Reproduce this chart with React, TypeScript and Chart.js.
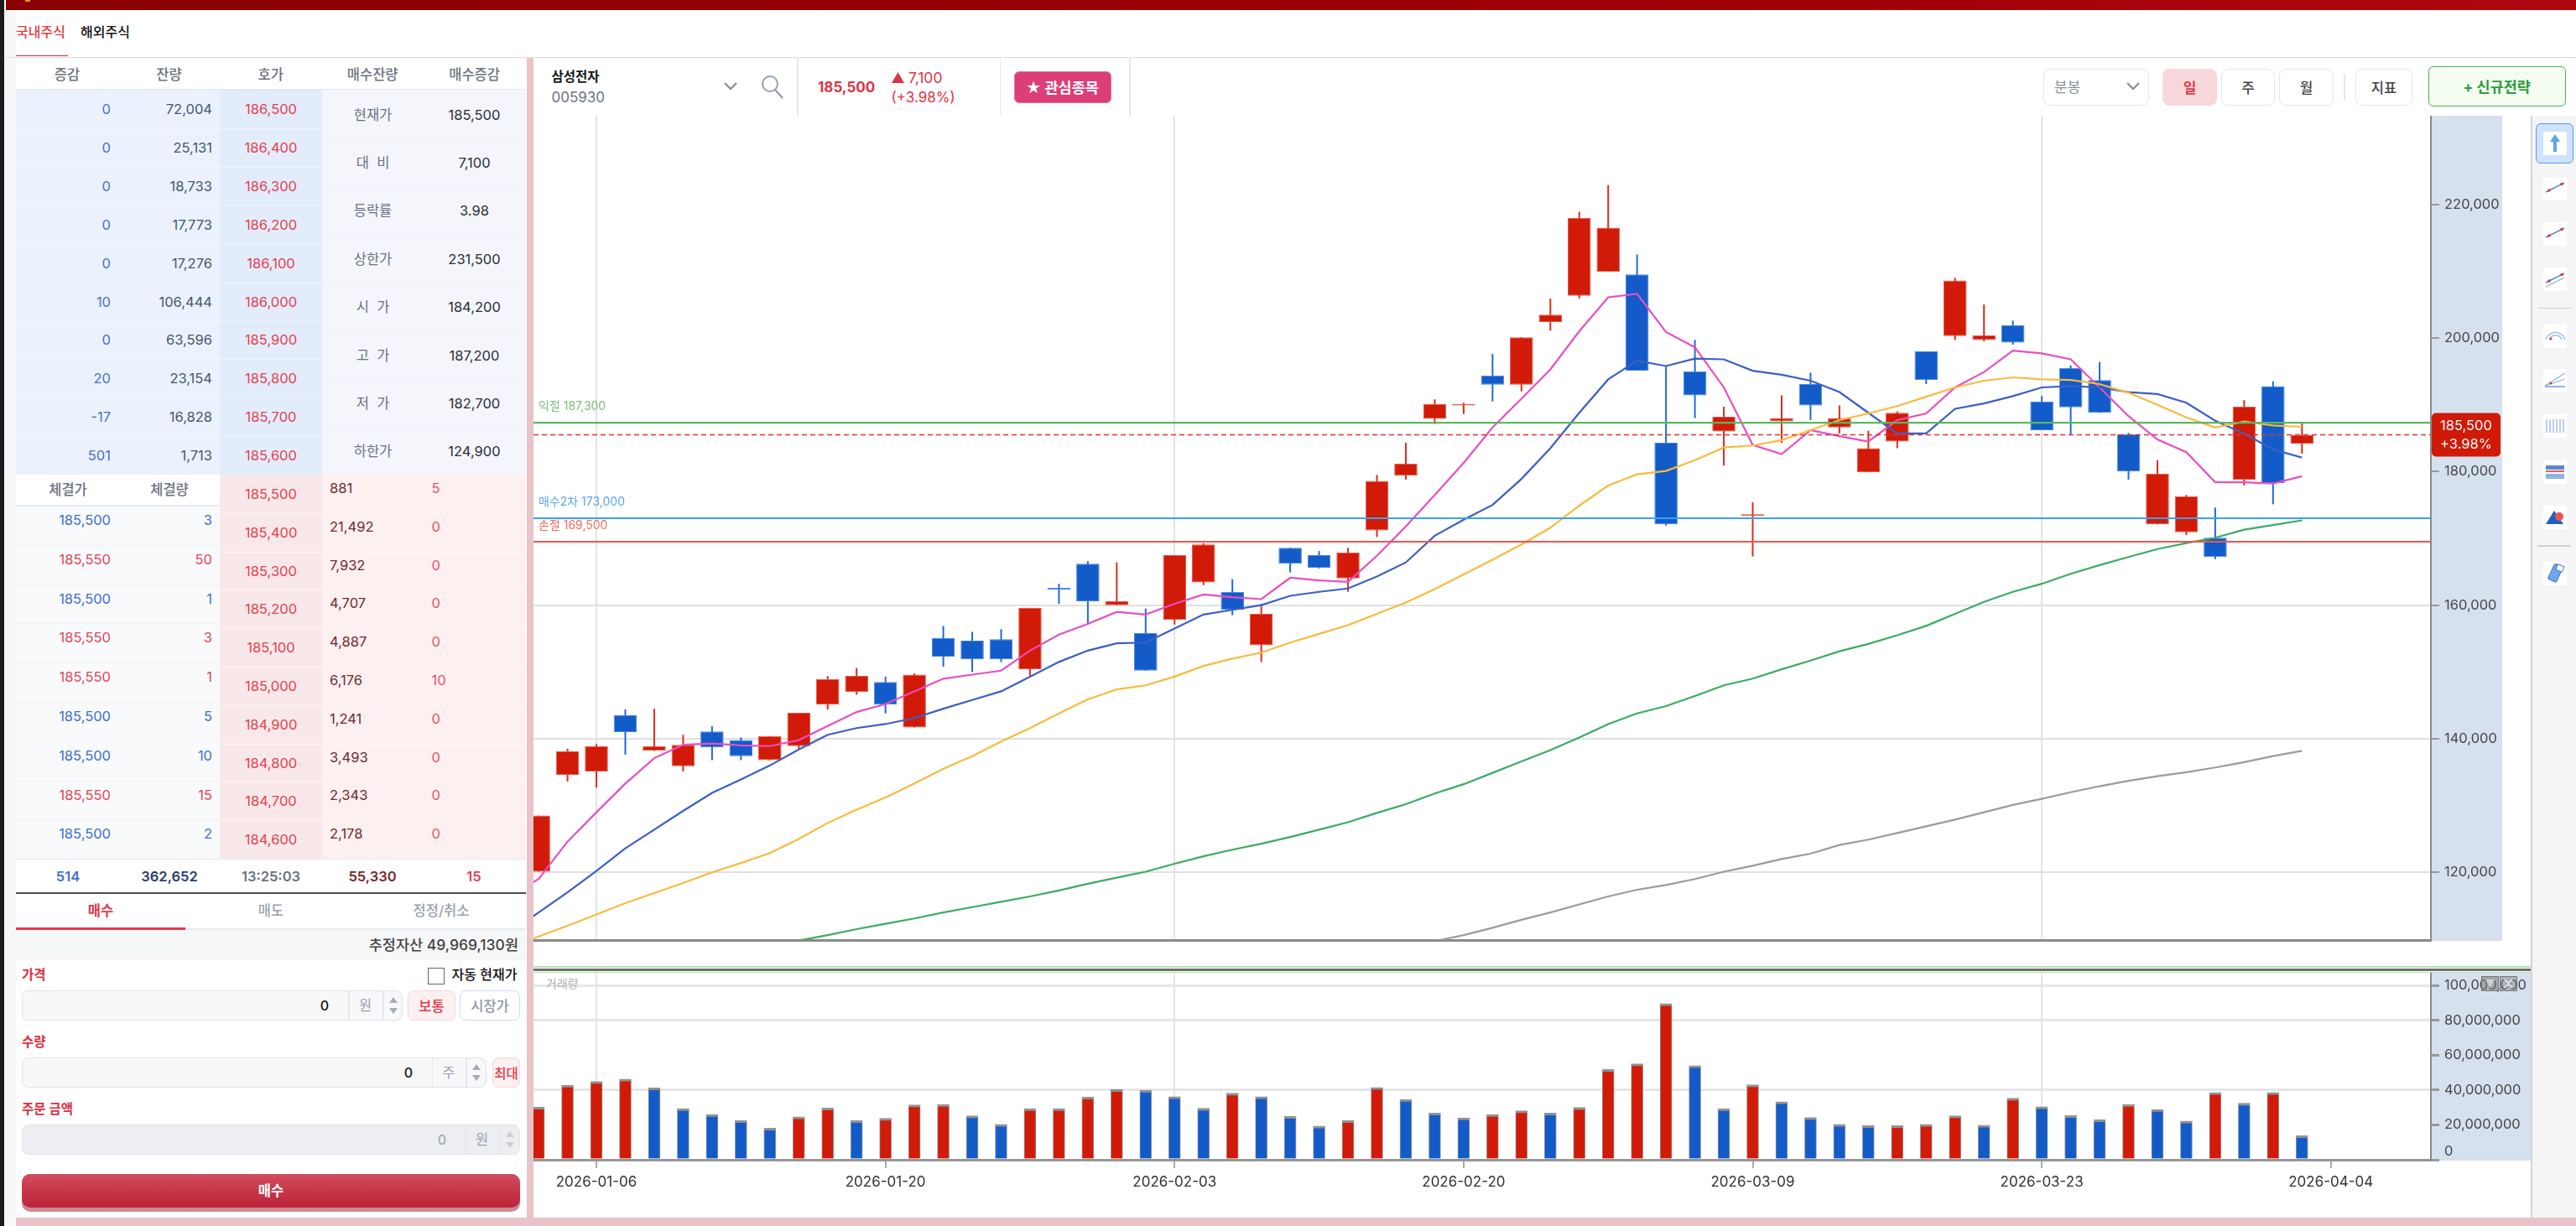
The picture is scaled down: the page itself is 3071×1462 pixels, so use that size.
import { useEffect, useRef } from 'react';
import type { CSSProperties, ReactNode } from 'react';
import Chart from 'chart.js/auto';

const FONT = 'Inter, "Noto Sans CJK KR", sans-serif';

// order book
const askDeltas = ['0', '0', '0', '0', '0', '10', '0', '20', '-17', '501'];
const askSizes = ['72,004', '25,131', '18,733', '17,773', '17,276', '106,444', '63,596', '23,154', '16,828', '1,713'];
const askPrices = ['186,500', '186,400', '186,300', '186,200', '186,100', '186,000', '185,900', '185,800', '185,700', '185,600'];
const infoLabels = ['현재가', '대  비', '등락률', '상한가', '시  가', '고  가', '저  가', '하한가'];
const infoValues = ['185,500', '7,100', '3.98', '231,500', '184,200', '187,200', '182,700', '124,900'];
const bidPrices = ['185,500', '185,400', '185,300', '185,200', '185,100', '185,000', '184,900', '184,800', '184,700', '184,600'];
const bidSizes = ['881', '21,492', '7,932', '4,707', '4,887', '6,176', '1,241', '3,493', '2,343', '2,178'];
const bidDeltas = ['5', '0', '0', '0', '0', '10', '0', '0', '0', '0'];
const tradePrices = ['185,500', '185,550', '185,500', '185,550', '185,550', '185,500', '185,500', '185,550', '185,500'];
const tradeSizes = ['3', '50', '1', '3', '1', '5', '10', '15', '2'];

// daily candles, index 0 is the leftmost (clipped) session
const opens = [120100, 134600, 135100, 143500, 138200, 135900, 141100, 139800, 136800, 138900, 145100, 147000, 148500, 141700, 155100, 154700, 154900, 150400, 162600, 166200, 160000, 155800, 157800, 163400, 162000, 154000, 168600, 167500, 164000, 171200, 179400, 187900, 189900, 194400, 193000, 202400, 206300, 209900, 209500, 184300, 195000, 186000, 173400, 187500, 193100, 186600, 179900, 184500, 198000, 200300, 199700, 201900, 190500, 195500, 193700, 185600, 172100, 170900, 170100, 178800, 192800, 184200];
const closes = [128500, 138100, 138900, 141000, 138900, 139100, 138700, 137400, 140400, 143900, 148900, 149400, 145100, 149600, 152300, 151900, 151900, 159600, 162300, 160600, 160600, 150200, 167500, 169100, 159300, 158700, 166200, 165600, 167900, 178600, 181200, 190100, 190100, 193000, 200100, 203500, 218000, 216500, 195100, 172100, 191400, 188200, 173600, 188000, 189900, 188000, 183500, 188800, 193700, 208600, 200400, 199300, 186200, 189600, 188800, 180000, 179700, 176300, 167200, 189700, 178300, 185500];
const highs = [128500, 138500, 139200, 144400, 144500, 140600, 141900, 140200, 140400, 143900, 149400, 150600, 149300, 149800, 156900, 156000, 156400, 159600, 163200, 166600, 166400, 159500, 167500, 169300, 163900, 160200, 168600, 168100, 168600, 179500, 184300, 190800, 190300, 197600, 200100, 205900, 218900, 222900, 212500, 195800, 199700, 189700, 175400, 191400, 194800, 189900, 186100, 189000, 198000, 209000, 205000, 202600, 191300, 195900, 196400, 185800, 181700, 176500, 174600, 190700, 193500, 187200];
const lows = [120100, 133600, 132700, 137600, 138200, 135100, 136800, 136800, 136800, 138500, 144400, 146600, 143800, 141700, 150800, 150000, 151500, 149400, 160200, 157300, 160000, 150200, 157100, 163000, 158500, 151500, 164900, 165500, 162000, 170200, 178800, 187100, 188600, 190500, 192000, 201100, 205900, 209900, 195100, 171900, 188000, 180900, 167300, 184300, 187700, 185700, 179900, 183500, 193100, 199700, 199500, 199000, 186200, 185500, 188800, 178800, 172100, 170500, 166900, 177900, 175100, 182700];

// moving averages, first value sits one session before index 0
const ma5 = [116600, 119000, 124600, 129000, 133300, 137100, 139100, 139300, 139000, 138900, 139800, 141900, 144000, 145200, 147100, 149000, 149600, 150200, 153200, 155600, 157200, 159000, 158600, 160200, 161600, 161200, 160900, 164100, 163700, 163500, 167400, 171800, 176500, 181300, 186600, 190900, 195300, 201000, 206100, 206600, 200900, 198600, 192600, 184000, 182600, 186200, 185300, 184500, 187700, 188700, 192600, 194900, 198100, 197700, 196800, 192600, 188300, 184800, 182900, 178400, 178400, 178200, 179300];
const ma10 = [111000, 114000, 117000, 120200, 123600, 126400, 129200, 131900, 133900, 136000, 138400, 140600, 141600, 142200, 143100, 144500, 145800, 147100, 149300, 151500, 153200, 154300, 154400, 156500, 158600, 159300, 160000, 161400, 162000, 162500, 164300, 166400, 170400, 172800, 175000, 178900, 183500, 188800, 193800, 196600, 195800, 196900, 196800, 195100, 194500, 193600, 191900, 188800, 185700, 185700, 189400, 190200, 191300, 192600, 192800, 192600, 191900, 191600, 190300, 187600, 185700, 183300, 182100];
const ma20 = [108700, 110400, 112000, 113700, 115400, 116900, 118400, 120000, 121400, 122900, 125000, 127400, 129400, 131200, 133300, 135500, 137400, 139600, 141600, 143800, 145900, 147400, 148000, 149300, 150900, 152000, 152900, 154400, 155700, 157000, 158700, 160400, 162400, 164600, 166800, 169100, 171600, 174900, 177900, 179600, 180100, 181700, 183600, 183900, 184700, 186200, 187700, 188700, 189800, 191200, 192600, 193600, 194100, 193800, 193700, 193100, 191800, 190000, 188100, 186600, 187500, 186900, 186700];
const ma60Start = 8;
const ma60 = [109000, 109800, 110600, 111500, 112300, 113100, 114000, 114800, 115600, 116400, 117300, 118300, 119200, 120100, 121300, 122400, 123400, 124300, 125300, 126400, 127500, 128900, 130200, 131800, 133200, 134900, 136600, 138300, 140200, 142200, 143800, 144900, 146400, 148000, 149000, 150400, 151700, 153100, 154200, 155500, 156900, 158700, 160500, 162000, 163200, 164700, 166000, 167200, 168400, 169300, 170100, 171300, 172000, 172700];
const ma120Start = 30;
const ma120 = [108700, 109700, 110600, 111700, 112900, 114000, 115200, 116400, 117400, 118100, 119000, 120100, 121000, 122000, 122800, 124100, 124900, 125900, 126900, 127900, 129000, 130100, 131000, 132000, 132900, 133700, 134400, 135000, 135700, 136500, 137400, 138200];

// strategy levels
const takeProfit = 187300;
const currentPrice = 185500;
const buySecond = 173000;
const stopLoss = 169500;

// volume
const volumes = [30200000, 42800000, 45000000, 46300000, 41200000, 29400000, 26000000, 22500000, 18200000, 24600000, 29700000, 22500000, 23800000, 31500000, 31800000, 25200000, 20300000, 29400000, 29400000, 36000000, 40300000, 39900000, 36200000, 29600000, 38300000, 36200000, 24900000, 19300000, 22500000, 41500000, 34600000, 26800000, 24100000, 26000000, 28100000, 26800000, 30100000, 51800000, 55100000, 89700000, 54000000, 29400000, 43100000, 33300000, 24300000, 20300000, 19600000, 19600000, 20300000, 25200000, 19800000, 35400000, 30400000, 25400000, 23000000, 31800000, 28900000, 22200000, 38600000, 32500000, 38600000, 13800000];
const volumeUp = [1, 1, 1, 1, 0, 0, 0, 0, 0, 1, 1, 0, 1, 1, 1, 0, 0, 1, 1, 1, 1, 0, 0, 0, 1, 0, 0, 0, 1, 1, 0, 0, 0, 1, 1, 0, 1, 1, 1, 1, 0, 0, 1, 0, 0, 0, 0, 1, 1, 1, 0, 1, 0, 0, 0, 1, 0, 0, 1, 0, 1, 0];

// axis ticks
const dateTickIndexes = [2, 12, 22, 32, 42, 52, 62];
const dateTickLabels = ['2026-01-06', '2026-01-20', '2026-02-03', '2026-02-20', '2026-03-09', '2026-03-23', '2026-04-04'];
const gridDateIndexes = [2, 22, 52];
const priceTicks = [120000, 140000, 160000, 180000, 200000, 220000];
const priceGridValues = [120000, 140000, 160000];
const volumeTicks = [0, 20000000, 40000000, 60000000, 80000000, 100000000];
const volumeGridValues = [40000000, 80000000, 100000000];

const RED = '#d11a07';
const BLUE = '#125bc9';
const X_MIN = -0.177;
const X_MAX = 65.46;
const GRID = '#e0e0e0';

const toPoints = (values: number[], start: number) => values.map((y, i) => ({ x: start + i, y }));
const fixTicks = (values: number[]) => (axis: any) => {
  axis.ticks = values.map((value) => ({ value }));
};
const noPadding = (axis: any) => {
  axis.paddingTop = 0;
  axis.paddingBottom = 0;
  axis.paddingLeft = 0;
  axis.paddingRight = 0;
};
const maLine = (values: number[], start: number, color: string) => ({
  type: 'line' as const,
  data: toPoints(values, start),
  borderColor: color,
  borderWidth: 2.2,
  pointRadius: 0,
  tension: 0,
  order: 3,
});
const levelLine = (y: number, color: string, width: number, dash: number[] = []) => ({
  type: 'line' as const,
  data: [{ x: X_MIN, y }, { x: X_MAX, y }],
  borderColor: color,
  borderWidth: width,
  borderDash: dash,
  pointRadius: 0,
  order: 1,
});

const priceOverlay = {
  id: 'priceOverlay',
  afterDraw(chart: any) {
    const { ctx, scales, chartArea } = chart;
    const yOf = (v: number) => scales.y.getPixelForValue(v);
    ctx.save();
    ctx.font = `14px ${FONT}`;
    ctx.textBaseline = 'middle';
    ctx.textAlign = 'left';
    const x = chartArea.left + 6;
    ctx.fillStyle = '#7fbb7f';
    ctx.fillText(`익절 ${takeProfit.toLocaleString('en-US')}`, x, yOf(takeProfit) - 19);
    ctx.fillStyle = '#5aa5f2';
    ctx.fillText(`매수2차 ${buySecond.toLocaleString('en-US')}`, x, yOf(buySecond) - 19);
    ctx.fillStyle = '#f26c5c';
    ctx.fillText(`손절 ${stopLoss.toLocaleString('en-US')}`, x, yOf(stopLoss) - 19);

    const mid = yOf(currentPrice);
    ctx.fillStyle = '#cf1a08';
    ctx.beginPath();
    ctx.roundRect(chartArea.right + 1, mid - 26, 82, 52, 5);
    ctx.fill();
    ctx.fillStyle = '#ffffff';
    ctx.textAlign = 'center';
    ctx.font = `16.5px ${FONT}`;
    ctx.fillText(currentPrice.toLocaleString('en-US'), chartArea.right + 42, mid - 10);
    ctx.fillText('+3.98%', chartArea.right + 42, mid + 12);
    ctx.restore();
  },
};

function PriceChart() {
  const canvasRef = useRef<HTMLCanvasElement>(null);

  useEffect(() => {
    if (!canvasRef.current) return;
    const wicks = lows.map((low, i) => ({ x: i, y: [low, highs[i]] }));
    const bodies = opens.map((open, i) => ({ x: i, y: [open, closes[i]] }));
    const up = (i: number) => closes[i] >= opens[i];

    const chart = new Chart(canvasRef.current, {
      type: 'bar',
      data: {
        datasets: [
          {
            data: wicks,
            grouped: false,
            barPercentage: 1,
            maxBarThickness: 2,
            backgroundColor: opens.map((_, i) => (up(i) ? '#de2c1c' : '#2169d6')),
            order: 6,
          },
          {
            data: bodies,
            grouped: false,
            barPercentage: 1,
            maxBarThickness: 29,
            backgroundColor: opens.map((_, i) => (up(i) ? RED : BLUE)),
            borderColor: opens.map((_, i) => (up(i) ? '#e25a48' : '#4585dc')),
            borderWidth: 1,
            borderSkipped: false,
            order: 5,
          },
          maLine(ma120, ma120Start, '#9b9b9b'),
          maLine(ma60, ma60Start, '#3bab66'),
          maLine(ma20, -1, '#f7bb3e'),
          maLine(ma10, -1, '#3c5fc2'),
          maLine(ma5, -1, '#e84fc1'),
          levelLine(takeProfit, '#5cb660', 2.2),
          levelLine(currentPrice, '#dd3434', 1.5, [6, 4]),
          levelLine(buySecond, '#37a3f3', 2),
          levelLine(stopLoss, '#f4534c', 2.2),
        ] as any,
      },
      options: {
        responsive: false,
        devicePixelRatio: 1,
        animation: false,
        layout: { padding: 0 },
        plugins: { legend: { display: false }, tooltip: { enabled: false } },
        scales: {
          x: {
            type: 'linear',
            offset: false,
            min: X_MIN,
            max: X_MAX,
            afterBuildTicks: fixTicks(dateTickIndexes),
            afterFit: (axis: any) => {
              noPadding(axis);
              axis.height = 2;
            },
            ticks: { display: false, autoSkip: false },
            grid: {
              offset: false,
              drawTicks: false,
              lineWidth: 2,
              color: (c: any) => (gridDateIndexes.includes(c.tick?.value) ? '#e4e4e4' : 'transparent'),
            },
            border: { color: '#8a8a8a', width: 3 },
          },
          y: {
            position: 'right',
            min: 109870,
            max: 233270,
            afterBuildTicks: fixTicks(priceTicks),
            afterFit: (axis: any) => {
              noPadding(axis);
              axis.width = 85;
            },
            ticks: {
              autoSkip: false,
              padding: 6,
              color: '#484848',
              font: { family: FONT, size: 16.5 },
              callback: (v: any) => Number(v).toLocaleString('en-US'),
            },
            grid: {
              lineWidth: 2,
              tickLength: 10,
              tickColor: '#999999',
              color: (c: any) => (priceGridValues.includes(c.tick?.value) ? GRID : 'transparent'),
            },
            border: { color: '#8a8a8a', width: 2 },
          },
        },
      },
      plugins: [priceOverlay],
    });

    return () => chart.destroy();
  }, []);

  return <canvas ref={canvasRef} width={2347} height={985} style={{ position: 'absolute', left: 636, top: 138 }} />;
}

function VolumeChart() {
  const canvasRef = useRef<HTMLCanvasElement>(null);

  useEffect(() => {
    if (!canvasRef.current) return;
    const chart = new Chart(canvasRef.current, {
      type: 'bar',
      data: {
        datasets: [
          {
            data: volumes.map((y, i) => ({ x: i, y })),
            barThickness: 14,
            backgroundColor: volumeUp.map((u) => (u ? RED : BLUE)),
            borderColor: 'rgba(110,110,110,0.75)',
            borderWidth: { top: 3, left: 1, right: 1, bottom: 0 },
            borderSkipped: false,
          },
        ] as any,
      },
      options: {
        responsive: false,
        devicePixelRatio: 1,
        animation: false,
        layout: { padding: 0 },
        plugins: { legend: { display: false }, tooltip: { enabled: false } },
        scales: {
          x: {
            type: 'linear',
            offset: false,
            min: X_MIN,
            max: X_MAX,
            afterBuildTicks: fixTicks(dateTickIndexes),
            afterFit: (axis: any) => {
              noPadding(axis);
              axis.height = 47;
            },
            ticks: {
              autoSkip: false,
              maxRotation: 0,
              padding: 7,
              color: '#333333',
              font: { family: FONT, size: 17 },
              callback: (v: any) => dateTickLabels[dateTickIndexes.indexOf(Number(v))],
            },
            grid: {
              offset: false,
              lineWidth: 2,
              tickLength: 10,
              tickColor: '#aaaaaa',
              color: (c: any) => (gridDateIndexes.includes(c.tick?.value) ? '#e4e4e4' : 'transparent'),
            },
            border: { color: '#969696', width: 3 },
          },
          y: {
            position: 'right',
            min: 0,
            max: 107400000,
            afterBuildTicks: fixTicks(volumeTicks),
            afterFit: (axis: any) => {
              noPadding(axis);
              axis.width = 119;
            },
            ticks: {
              autoSkip: false,
              padding: 6,
              color: '#484848',
              font: { family: FONT, size: 16.5 },
              callback: (v: any) => (v === 0 ? ['0', ''] : Number(v).toLocaleString('en-US')),
            },
            grid: {
              lineWidth: 3,
              tickLength: 10,
              tickColor: '#999999',
              color: (c: any) => (volumeGridValues.includes(c.tick?.value) ? '#e6e6e6' : 'transparent'),
            },
            border: { color: '#8a8a8a', width: 2 },
          },
        },
      },
    });

    return () => chart.destroy();
  }, []);

  return <canvas ref={canvasRef} width={2381} height={270} style={{ position: 'absolute', left: 636, top: 1160 }} />;
}

function Box({ x, y, w, h, bg, style, children }: { x: number; y: number; w: number; h: number; bg?: string; style?: CSSProperties; children?: ReactNode }) {
  return <div style={{ position: 'absolute', left: x, top: y, width: w, height: h, background: bg, boxSizing: 'border-box', ...style }}>{children}</div>;
}

function T({ x, y, a = 'l', s = 16.5, c = '#222', w = 400, children }: { x: number; y: number; a?: 'l' | 'c' | 'r'; s?: number; c?: string; w?: number; children: ReactNode }) {
  const shift = a === 'l' ? '0' : a === 'c' ? '-50%' : '-100%';
  return (
    <div style={{ position: 'absolute', left: x, top: y, transform: `translate(${shift}, -50%)`, fontSize: s, color: c, fontWeight: w, lineHeight: 1, whiteSpace: 'pre' }}>
      {children}
    </div>
  );
}

function Spin({ x, y, c = '#a3adb8' }: { x: number; y: number; c?: string }) {
  return (
    <svg style={{ position: 'absolute', left: x - 6, top: y - 11 }} width={12} height={22}>
      <polygon points="6,1 11,8 1,8" fill={c} />
      <polygon points="6,21 11,14 1,14" fill={c} />
    </svg>
  );
}

function Chevron({ x, y, c = '#7d8a99' }: { x: number; y: number; c?: string }) {
  return (
    <svg style={{ position: 'absolute', left: x - 9, top: y - 6 }} width={18} height={12}>
      <polyline points="2,2 9,9 16,2" fill="none" stroke={c} strokeWidth={2} />
    </svg>
  );
}

function Field({ y, w, unit, zero, divA, divB, bg = '#f8f8fb', c = '#111' }: { y: number; w: number; unit: string; zero: number; divA: number; divB: number; bg?: string; c?: string }) {
  return (
    <>
      <Box x={26} y={y} w={w} h={36} bg={bg} style={{ border: '1.5px solid #e1e3ea', borderRadius: 8 }} />
      <T x={zero} y={y + 18} a="r" s={16} c={c} w={500}>0</T>
      <Box x={divA} y={y + 1} w={1.5} h={34} bg="#e6e8ee" />
      <T x={(divA + divB) / 2} y={y + 18} a="c" c="#9aa1ab">{unit}</T>
      <Box x={divB} y={y + 1} w={1.5} h={34} bg="#e6e8ee" />
      <Spin x={divB + 12.5} y={y + 18} c={bg === '#f8f8fb' ? '#a3adb8' : '#c9ced6'} />
    </>
  );
}

function Pill({ x, y, w, h, label, bg = '#fff', bd = '#e4e6ea', c = '#444', fw = 500, r = 7, s = 16.5 }: { x: number; y: number; w: number; h: number; label: string; bg?: string; bd?: string; c?: string; fw?: number; r?: number; s?: number }) {
  return (
    <Box x={x} y={y} w={w} h={h} bg={bg} style={{ border: `1.5px solid ${bd}`, borderRadius: r, display: 'flex', alignItems: 'center', justifyContent: 'center', fontSize: s, color: c, fontWeight: fw, whiteSpace: 'pre' }}>
      {label}
    </Box>
  );
}

function Tool({ y, kind }: { y: number; kind: number }) {
  const line = <line x1="3" y1="18" x2="25" y2="7" stroke="#4a7fd0" strokeWidth="1.5" />;
  const dots = (
    <>
      <circle cx="7" cy="16" r="1.8" fill="#e23a3a" />
      <circle cx="22" cy="8.5" r="1.8" fill="#e23a3a" />
    </>
  );
  const shapes: ReactNode[] = [
    <polygon points="14,3 20,12 16,12 16,24 12,24 12,12 8,12" fill="#5ca5ea" />,
    <>{line}{dots}</>,
    <>{line}{dots}</>,
    <>
      {line}
      <line x1="3" y1="23" x2="25" y2="12" stroke="#8fb2e6" strokeWidth="1.2" />
      {dots}
    </>,
    <>
      <path d="M3 18 A12 12 0 0 1 26 18" fill="none" stroke="#8fb2e6" strokeWidth="1.2" />
      <path d="M7 18 A8 8 0 0 1 22 18" fill="none" stroke="#8fb2e6" strokeWidth="1.2" />
      <circle cx="9" cy="17" r="1.6" fill="#e23a3a" />
    </>,
    <>
      <line x1="2" y1="20" x2="26" y2="5" stroke="#8fb2e6" strokeWidth="1.2" />
      <line x1="2" y1="20" x2="26" y2="12" stroke="#8fb2e6" strokeWidth="1.2" />
      <line x1="2" y1="21" x2="26" y2="21" stroke="#4a7fd0" strokeWidth="1.2" />
      <circle cx="9" cy="17" r="1.6" fill="#e23a3a" />
    </>,
    <path d="M4 6V22M8 6V22M12 6V22M16 6V22M20 6V22M24 6V22" stroke="#9dbbe8" strokeWidth="1.4" />,
    <>
      <rect x="3" y="6" width="22" height="5" fill="#5d86cf" />
      <rect x="3" y="12" width="22" height="2" fill="#e0605a" />
      <rect x="3" y="16" width="22" height="6" fill="#8fb2e6" />
    </>,
    <>
      <polygon points="3,22 13,6 24,22" fill="#1e5fc8" />
      <circle cx="19" cy="13" r="5" fill="#e8584e" />
    </>,
    <>
      <rect x="9" y="3" width="11" height="20" rx="2" transform="rotate(25 14 13)" fill="#6ea8ea" stroke="#3f7ac8" strokeWidth="1" />
      <rect x="13" y="2" width="8" height="7" transform="rotate(25 14 13)" fill="#ffffff" stroke="#3f7ac8" strokeWidth="1" />
    </>,
  ];
  return (
    <Box x={3032} y={y - 14} w={28} h={28} bg="#ffffff">
      <svg width={28} height={28}>{shapes[kind]}</svg>
    </Box>
  );
}

function OrderPanel() {
  const rowY = (i: number) => 107 + i * 45.9;
  const infoY = (i: number) => 107 + i * 57.4;
  const bidY = (i: number) => 566 + i * 45.8;
  const tradeY = (i: number) => 603 + i * 46.8;
  return (
    <>
      {/* tabs */}
      <T x={19} y={38} s={16} c="#e33b3b" w={500}>국내주식</T>
      <T x={96} y={38} s={16} c="#111" w={500}>해외주식</T>
      <Box x={19} y={65.5} w={62} h={1.5} bg="#e02c2c" />

      {/* ask book */}
      <Box x={19} y={70} w={608} h={37} bg="#ffffff" />
      <Box x={19} y={106} w={608} h={1.5} bg="#e4e8ef" />
      {['증감', '잔량', '호가', '매수잔량', '매수증감'].map((h, i) => (
        <T key={h} x={80 + i * 121.4} y={88.5} a="c" c="#6b7280" w={500}>{h}</T>
      ))}
      <Box x={19} y={107} w={243} h={459} bg="#ebf2fd" />
      <Box x={262} y={107} w={121.5} h={459} bg="#e2ecfa" />
      <Box x={383.5} y={107} w={243} h={459} bg="#f4f6fb" />
      {askPrices.map((p, i) => (
        <div key={p}>
          {i > 0 && <Box x={19} y={rowY(i)} w={364} h={1} bg="#f0f5fd" />}
          <T x={132} y={rowY(i) + 23} a="r" c="#4a6fc8">{askDeltas[i]}</T>
          <T x={253} y={rowY(i) + 23} a="r" c="#465672">{askSizes[i]}</T>
          <T x={323} y={rowY(i) + 23} a="c" c="#e5404f">{p}</T>
        </div>
      ))}
      {infoLabels.map((l, i) => (
        <div key={l}>
          {i > 0 && <Box x={383.5} y={infoY(i)} w={243} h={1} bg="#eceff5" />}
          <T x={444.5} y={infoY(i) + 29.5} a="c" c="#6b7280">{l}</T>
          <T x={565.5} y={infoY(i) + 29.5} a="c" c="#2b2f36">{infoValues[i]}</T>
        </div>
      ))}

      {/* bid book and trades */}
      <Box x={19} y={566} w={243} h={37} bg="#ffffff" />
      <Box x={19} y={602} w={243} h={2} bg="#e4e8ef" />
      <T x={81} y={584} a="c" c="#6b7280" w={500}>체결가</T>
      <T x={202} y={584} a="c" c="#6b7280" w={500}>체결량</T>
      <Box x={19} y={604} w={243} h={420} bg="#f9fafb" />
      <Box x={262} y={566} w={121.5} h={458} bg="#f9e8ea" />
      <Box x={383.5} y={566} w={243} h={458} bg="#fcf0f1" />
      {bidPrices.map((p, i) => (
        <div key={p}>
          {i > 0 && <Box x={262} y={bidY(i)} w={364.5} h={1} bg="#fdf6f6" />}
          <T x={323} y={bidY(i) + 23} a="c" c="#e5404f">{p}</T>
          <T x={393} y={bidY(i) + 16} c="#6f2a30">{bidSizes[i]}</T>
          <T x={514.5} y={bidY(i) + 16} c="#e5536a">{bidDeltas[i]}</T>
        </div>
      ))}
      {tradePrices.map((p, i) => {
        const color = p === '185,500' ? '#3b6fd0' : '#e0455a';
        return (
          <div key={i}>
            {i > 0 && <Box x={19} y={tradeY(i)} w={243} h={1} bg="#f1f2f4" />}
            <T x={132} y={tradeY(i) + 17} a="r" c={color}>{p}</T>
            <T x={253} y={tradeY(i) + 17} a="r" c={color}>{tradeSizes[i]}</T>
          </div>
        );
      })}

      {/* totals */}
      <Box x={19} y={1024} w={608} h={40} bg="#ffffff" />
      <Box x={19} y={1023.5} w={608} h={1.5} bg="#e2e6ee" />
      <T x={81} y={1045} a="c" c="#4a6fc8" w={600}>514</T>
      <T x={202} y={1045} a="c" c="#2c3e6a" w={600}>362,652</T>
      <T x={323} y={1045} a="c" c="#6b7280" w={600}>13:25:03</T>
      <T x={444} y={1045} a="c" c="#7a2630" w={600}>55,330</T>
      <T x={565} y={1045} a="c" c="#e0455a" w={600}>15</T>
      <Box x={19} y={1063.5} w={608} h={2} bg="#4a4a50" />

      {/* order form */}
      <T x={120} y={1086} a="c" c="#e0394c" w={600}>매수</T>
      <T x={323} y={1086} a="c" c="#9aa1ab" w={500}>매도</T>
      <T x={526} y={1086} a="c" c="#9aa1ab" w={500}>정정/취소</T>
      <Box x={19} y={1107} w={608} h={2} bg="#e8e9ed" />
      <Box x={19} y={1106} w={202} h={3} bg="#e0394c" />
      <Box x={19} y={1109} w={608} h={36} bg="#f6f7f9" />
      <T x={618} y={1127} a="r" s={17.5} c="#444" w={500}>추정자산 49,969,130원</T>

      <T x={26} y={1163} s={15.5} c="#dc3045" w={600}>가격</T>
      <Box x={510} y={1154} w={20} h={20} bg="#fff" style={{ border: '1.5px solid #666' }} />
      <T x={538.5} y={1161.5} s={16} c="#111" w={500}>자동 현재가</T>
      <Field y={1181} w={454} unit="원" zero={392} divA={415} divB={456} />
      <Pill x={486} y={1181} w={57} h={36} label="보통" bg="#fdf0f0" bd="#f6d8da" c="#e0394c" />
      <Pill x={548} y={1181} w={72} h={36} label="시장가" bd="#cbd9e8" c="#8d97a3" />

      <T x={26} y={1243} s={15.5} c="#dc3045" w={600}>수량</T>
      <Field y={1261} w={554} unit="주" zero={492} divA={514.5} divB={555} />
      <Pill x={587} y={1261} w={33} h={36} label="최대" bg="#fdf0f0" bd="#f6d8da" c="#e0394c" s={15.5} />

      <T x={26} y={1323} s={15.5} c="#dc3045" w={600}>주문 금액</T>
      <Field y={1341} w={594} unit="원" zero={532} divA={554} divB={595} bg="#eceef2" c="#a3a8b0" />

      <Box x={26} y={1400} w={594} h={45} bg="#cc8a92" style={{ borderRadius: 10 }} />
      <Box x={26} y={1400} w={594} h={40} style={{ borderRadius: 10, background: 'linear-gradient(#d04d5d, #bd2236)' }} />
      <T x={323} y={1420} a="c" c="#ffffff" w={600}>매수</T>
    </>
  );
}

function ChartHeader() {
  return (
    <>
      <T x={657.5} y={92} s={15.5} c="#15171a" w={700}>삼성전자</T>
      <T x={657.5} y={116} s={17} c="#6b7280">005930</T>
      <Chevron x={871} y={103} />
      <svg style={{ position: 'absolute', left: 906, top: 88 }} width={30} height={30}>
        <circle cx="12" cy="12" r="9" fill="none" stroke="#94a0b0" strokeWidth="2" />
        <line x1="18" y1="19" x2="27" y2="29" stroke="#94a0b0" strokeWidth="2.5" />
      </svg>
      {[950, 1191.5, 1346].map((x) => (
        <Box key={x} x={x} y={68} w={1.5} h={70} bg="#e5e7eb" />
      ))}
      <T x={975} y={104} c="#dc3545" w={700} s={17}>185,500</T>
      <svg style={{ position: 'absolute', left: 1062, top: 85 }} width={17} height={15}>
        <polygon points="8.5,1 16,14 1,14" fill="#dc3545" />
      </svg>
      <T x={1083} y={93} s={17.5} c="#dc3545">7,100</T>
      <T x={1062.5} y={115.5} s={17} c="#dc3545">(+3.98%)</T>
      <Box x={1208.5} y={84.5} w={116} h={38.5} bg="#dc3f78" style={{ borderRadius: 6, border: '1px solid #e8739d', display: 'flex', alignItems: 'center', justifyContent: 'center', color: '#fff', fontWeight: 700, fontSize: 17.5, whiteSpace: 'pre' }}>
        ★ 관심종목
      </Box>

      <Box x={2436} y={81.5} w={126} h={44} bg="#fff" style={{ border: '1.5px solid #e4e6ea', borderRadius: 8 }} />
      <T x={2449} y={104} s={17} c="#8a919b">분봉</T>
      <Chevron x={2543} y={103} />
      <Pill x={2578} y={81.5} w={65} h={44} label="일" bg="#f8d7da" bd="#f8d7da" c="#e0394c" r={8} fw={600} s={17} />
      <Pill x={2648} y={81.5} w={64} h={44} label="주" r={8} s={17} />
      <Pill x={2717} y={81.5} w={65} h={44} label="월" r={8} s={17} />
      <Box x={2794} y={87.5} w={1.5} h={31} bg="#e5e7eb" />
      <Pill x={2808} y={81.5} w={68} h={44} label="지표" r={8} />
      <Pill x={2894.5} y={79} w={164.5} h={47.5} label="+ 신규전략" bg="#f3fdf0" bd="#4caf50" c="#2f9a3a" r={6} fw={700} s={17.5} />
    </>
  );
}

function Toolbar() {
  return (
    <>
      <Box x={3017} y={138} w={54} h={1314} bg="#f5f5f5" style={{ borderLeft: '2px solid #d4d4d4' }} />
      <Box x={3023} y={147} w={45} h={48} bg="#cfe2ff" style={{ border: '1.5px solid #5a9be8', borderRadius: 6 }} />
      <Tool y={171} kind={0} />
      <Tool y={225} kind={1} />
      <Tool y={279} kind={2} />
      <Tool y={333} kind={3} />
      <Box x={3025} y={366.5} w={40} h={1.5} bg="#cfcfcf" />
      <Tool y={401} kind={4} />
      <Tool y={454} kind={5} />
      <Tool y={508} kind={6} />
      <Tool y={563} kind={7} />
      <Tool y={617} kind={8} />
      <Box x={3025} y={650} w={40} h={1.5} bg="#cfcfcf" />
      <Tool y={684} kind={9} />
    </>
  );
}

export default function App() {
  useEffect(() => {
    document.body.style.margin = '0';
  }, []);

  return (
    <div style={{ position: 'fixed', left: 0, top: 0, width: 3071, height: 1462, overflow: 'hidden', background: '#fff', fontFamily: FONT }}>
      <Box x={0} y={0} w={5} h={1462} bg="#1c1c20" />
      <Box x={5} y={12} w={14} h={1450} bg="#f7f8fa" />
      <Box x={7} y={0} w={3064} h={12} style={{ background: 'linear-gradient(90deg, #8a0000, #a00008 70%, #b00612)' }} />
      <Box x={30} y={0} w={6} h={2} bg="#e8a000" />
      <Box x={7} y={67.5} w={3064} h={1.5} bg="#f3d3d6" />

      <Box x={628} y={69} w={8} h={1393} bg="#e8c4c8" />
      <Box x={19} y={1452} w={3052} h={10} bg="#e8c4c8" />

      <OrderPanel />
      <ChartHeader />
      <Toolbar />

      {/* axis side panels sit under the transparent canvases */}
      <Box x={2898} y={138} w={85} h={984} bg="#d6e1ef" />
      <Box x={2898} y={1160} w={118.5} h={224} bg="#d6e1ef" />

      <Box x={636} y={1152} w={2381} h={1.5} bg="#b4e0b4" />
      <Box x={636} y={1155} w={2381} h={3} bg="#6e6e6e" />
      <Box x={636} y={1158.5} w={2381} h={1.5} bg="#b4e0b4" />

      <PriceChart />
      <VolumeChart />

      <T x={651} y={1173} s={14} c="#aab0b8">거래량</T>
      <Box x={2958} y={1164} w={21} h={18} style={{ background: 'rgba(120,120,120,0.55)', border: '1px solid #777' }}>
        <svg width={19} height={16}><polygon points="4,3 15,3 9.5,13" fill="#cfcfcf" /></svg>
      </Box>
      <Box x={2980} y={1164} w={21} h={18} style={{ background: 'rgba(120,120,120,0.45)', border: '1px solid #777' }}>
        <svg width={19} height={16}><path d="M5 3L14 13M14 3L5 13" stroke="#e0e0e0" strokeWidth="2" /></svg>
      </Box>
    </div>
  );
}
